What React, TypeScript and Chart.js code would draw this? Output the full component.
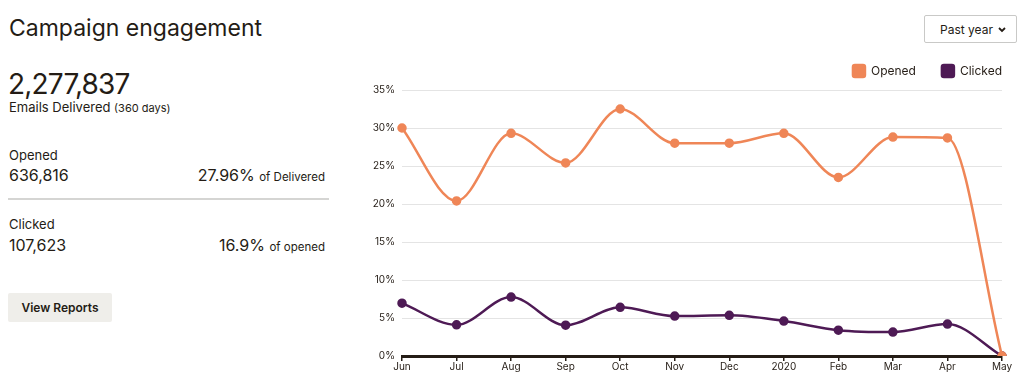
import React, { useEffect, useRef } from "react";
import { Chart, registerables } from "chart.js";

Chart.register(...registerables);

const months = ["Jun", "Jul", "Aug", "Sep", "Oct", "Nov", "Dec", "2020", "Feb", "Mar", "Apr", "May"];
const openedRate = [30.0, 20.4, 29.3, 25.4, 32.5, 28.0, 28.0, 29.3, 23.5, 28.8, 28.7, 0];
const clickedRate = [6.95, 4.1, 7.75, 4.05, 6.4, 5.25, 5.35, 4.6, 3.4, 3.15, 4.2, 0];
const yTicks = [0, 5, 10, 15, 20, 25, 30, 35];

const INK = "#241c15";
const ORANGE = "#ef8657";
const PURPLE = "#4e1a55";
const FONT = "Inter, 'Noto Sans', sans-serif";

function EngagementChart() {
  const ref = useRef<HTMLCanvasElement>(null);
  useEffect(() => {
    if (!ref.current) return;
    const legendPlugin = {
      id: "legendTweak",
      beforeInit(chart: any) {
        const fit = chart.legend.fit;
        chart.legend.fit = function () {
          fit.bind(chart.legend)();
          this.height = 51;
        };
      },
      afterLayout(chart: any) {
        chart.legend.left += 26;
        chart.legend.right += 26;
      },
    };
    const chart = new Chart(ref.current, {
      type: "line",
      data: {
        labels: months,
        datasets: [
          {
            label: "Opened",
            data: openedRate,
            borderColor: ORANGE,
            backgroundColor: ORANGE,
            pointBackgroundColor: ORANGE,
            pointBorderColor: ORANGE,
            borderWidth: 2.5,
            pointRadius: 3.5,
            cubicInterpolationMode: "monotone",
          },
          {
            label: "Clicked",
            data: clickedRate,
            borderColor: PURPLE,
            backgroundColor: PURPLE,
            pointBackgroundColor: PURPLE,
            pointBorderColor: PURPLE,
            borderWidth: 2.5,
            pointRadius: 3.5,
            cubicInterpolationMode: "monotone",
          },
        ],
      },
      options: {
        animation: false,
        responsive: false,
        maintainAspectRatio: false,
        layout: { padding: { right: 22, left: 0, top: 0, bottom: 0 } },
        plugins: {
          legend: {
            position: "top",
            align: "end",
            labels: {
              boxWidth: 12,
              boxHeight: 12,
              padding: 26,
              color: INK,
              font: { family: FONT, size: 12 },
              useBorderRadius: true,
              borderRadius: 2,
            } as any,
          },
          tooltip: { enabled: false },
        },
        scales: {
          x: {
            grid: {
              display: true,
              drawOnChartArea: false,
              drawTicks: true,
              tickLength: 5,
              color: INK,
              lineWidth: 1.5,
            },
            border: { display: true, color: INK, width: 3 },
            ticks: {
              color: INK,
              font: { family: FONT, size: 10 },
              autoSkip: false,
              maxRotation: 0,
              padding: 0,
            },
          },
          y: {
            min: 0,
            max: 35,
            afterFit(scale: any) {
              scale.width = 52;
            },
            afterBuildTicks(scale: any) {
              scale.ticks = yTicks.map((v) => ({ value: v }));
            },
            grid: { color: "#e4e4e4", lineWidth: 1, drawTicks: false },
            border: { display: false },
            ticks: {
              color: INK,
              font: { family: FONT, size: 10 },
              padding: 7,
              callback: (v: any) => v + "%",
            },
          },
        },
      } as any,
      plugins: [legendPlugin],
    });
    return () => chart.destroy();
  }, []);
  return (
    <canvas
      ref={ref}
      width={674}
      height={334}
      style={{ position: "absolute", left: 350, top: 39, width: 674, height: 334 }}
    />
  );
}

export default function App() {
  const base: React.CSSProperties = { position: "absolute", whiteSpace: "nowrap", lineHeight: 1, color: INK, fontFamily: FONT };
  const small: React.CSSProperties = { fontSize: 11.5 };
  return (
    <div style={{ position: "absolute", left: 0, top: 0, width: 1024, height: 390, background: "#fff", overflow: "hidden" }}>
      <div style={{ ...base, left: 9, top: 17, fontSize: 23 }}>Campaign engagement</div>
      <div style={{ ...base, left: 8, top: 70, fontSize: 28, letterSpacing: -0.8 }}>2,277,837</div>
      <div style={{ ...base, left: 9, top: 101, fontSize: 13 }}>
        Emails Delivered <span style={{ fontSize: 11 }}>(360 days)</span>
      </div>

      <div style={{ ...base, left: 9, top: 149, fontSize: 13 }}>Opened</div>
      <div style={{ ...base, left: 9, top: 167, fontSize: 16 }}>636,816</div>
      <div style={{ ...base, right: 1024 - 325, top: 167, fontSize: 16 }}>
        27.96% <span style={small}>of Delivered</span>
      </div>
      <div style={{ position: "absolute", left: 8, top: 198, width: 321, height: 2, background: "#d5d5d3" }} />
      <div style={{ ...base, left: 9, top: 218, fontSize: 13 }}>Clicked</div>
      <div style={{ ...base, left: 9, top: 237, fontSize: 16 }}>107,623</div>
      <div style={{ ...base, right: 1024 - 325, top: 237, fontSize: 16 }}>
        16.9% <span style={small}>of opened</span>
      </div>

      <div
        style={{
          position: "absolute", left: 8, top: 293, width: 104, height: 29, background: "#efeeea",
          borderRadius: 2, display: "flex", alignItems: "center", justifyContent: "center",
          fontFamily: FONT, fontSize: 12, fontWeight: 600, color: INK,
        }}
      >
        View Reports
      </div>

      <div
        style={{
          position: "absolute", left: 924, top: 15, width: 93, height: 28, boxSizing: "border-box",
          border: "1px solid #c9c9c7", borderRadius: 2, display: "flex", alignItems: "center",
          fontFamily: FONT, fontSize: 12, color: INK,
        }}
      >
        <span style={{ marginLeft: 15 }}>Past year</span>
        <svg width="8" height="6" viewBox="0 0 8 6" style={{ position: "absolute", left: 73, top: 11 }}>
          <path d="M1 1 L4 4 L7 1" stroke={INK} strokeWidth="1.8" fill="none" />
        </svg>
      </div>

      <EngagementChart />
    </div>
  );
}
